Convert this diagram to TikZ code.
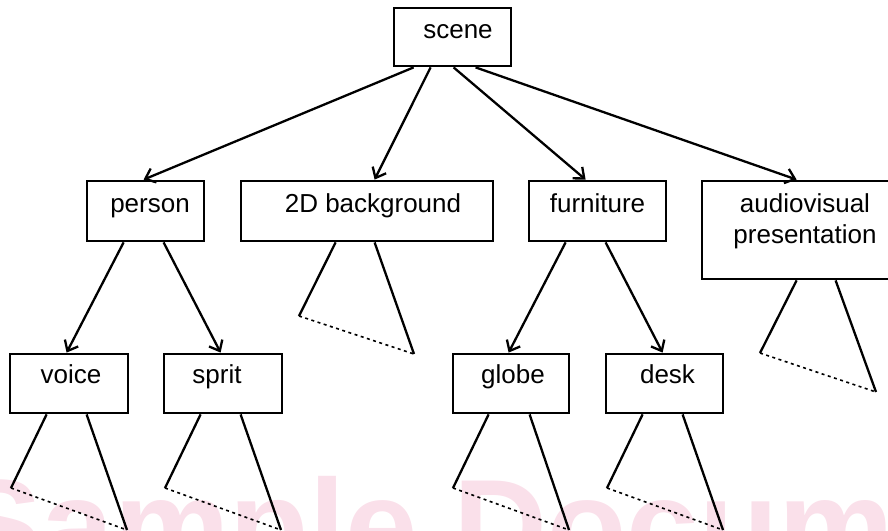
\documentclass[tikz,border=0pt]{standalone}
\usepackage{fontspec}
\setmainfont{Liberation Sans}
\usetikzlibrary{arrows.meta,calc}
\definecolor{wmpink}{RGB}{250,224,234}
\begin{document}
\begin{tikzpicture}[x=1pt,y=-1pt,
  box/.style={draw, line width=2.8pt, inner sep=0pt, minimum height=0pt, font=\fontsize{26}{31}\selectfont},
  topbox/.style={box, text height=31pt, text depth=29pt},
  lowbox/.style={box, text height=29pt, text depth=30pt},
  link/.style={line width=2.3pt, -{Straight Barb[length=9pt,width=15pt,line width=2.3pt]}},
  edge/.style={line width=2.3pt},
  cut/.style={line width=1.6pt, dash pattern=on 3pt off 3.5pt}]
\useasboundingbox (0,0) rectangle (888,530);
% watermark
\node[anchor=base west, text=wmpink, inner sep=0pt, font=\fontsize{130}{130}\bfseries\selectfont] (wm) at (-45,570) {Sample Document};
% boxes
\node[box, minimum width=117pt, text height=30pt, text depth=28pt] (scene) at (452.5,37) {\hspace*{11pt}scene};
\node[topbox, minimum width=117pt] (person) at (145.5,211) {\hspace*{9pt}person};
\node[topbox, minimum width=252pt] (bg) at (367,211) {\hspace*{12pt}2D background};
\node[topbox, minimum width=137pt] (furniture) at (597.5,211) {furniture};
\node[box, minimum width=206pt, text height=62pt, text depth=36pt] (audio) at (805,230)
  {\begin{tabular}[b]{@{}c@{}}audiovisual\\presentation\end{tabular}};
\node[lowbox, minimum width=118pt] (voice) at (69,383.5) {\hspace*{4pt}voice};
\node[lowbox, minimum width=118pt] (sprit) at (223,383.5) {sprit\hspace*{12pt}};
\node[lowbox, minimum width=116pt] (globe) at (511,383.5) {\hspace*{4pt}globe};
\node[lowbox, minimum width=117pt] (desk) at (664.5,383.5) {\hspace*{6pt}desk};
% arrows
\draw[link] ([xshift=21pt]scene.south west) -- ([xshift=58pt]person.north west);
\draw[link] ([xshift=38pt]scene.south west) -- ([xshift=135pt]bg.north west);
\draw[link] ([xshift=61pt]scene.south west) -- ([xshift=58pt]furniture.north west);
\draw[link] ([xshift=83pt]scene.south west) -- ([xshift=96pt]audio.north west);
\draw[link] ([xshift=38pt]person.south west) -- ([xshift=58pt]voice.north west);
\draw[link] ([xshift=78pt]person.south west) -- ([xshift=58pt]sprit.north west);
\draw[link] ([xshift=38pt]furniture.south west) -- ([xshift=57pt]globe.north west);
\draw[link] ([xshift=78pt]furniture.south west) -- ([xshift=58pt]desk.north west);
% subtree triangles
\coordinate (bgA) at (299,316); \coordinate (bgB) at (414,354);
\coordinate (auA) at (760,353); \coordinate (auB) at (876,392);
\coordinate (voA) at (11,488);  \coordinate (voB) at (127,530);
\coordinate (spA) at (165,488); \coordinate (spB) at (281,530);
\coordinate (glA) at (453,488); \coordinate (glB) at (569,530);
\coordinate (deA) at (607,488); \coordinate (deB) at (723,530);
\draw[edge] ([xshift=96pt]bg.south west) -- (bgA);
\draw[cut] (bgA) -- (bgB);
\draw[edge] ([xshift=135pt]bg.south west) -- (bgB);
\draw[edge] ([xshift=96pt]audio.south west) -- (auA);
\draw[cut] (auA) -- (auB);
\draw[edge] ([xshift=135pt]audio.south west) -- (auB);
\draw[edge] ([xshift=38pt]voice.south west) -- (voA);
\draw[cut] (voA) -- (voB);
\draw[edge] ([xshift=78pt]voice.south west) -- (voB);
\draw[edge] ([xshift=38pt]sprit.south west) -- (spA);
\draw[cut] (spA) -- (spB);
\draw[edge] ([xshift=78pt]sprit.south west) -- (spB);
\draw[edge] ([xshift=37pt]globe.south west) -- (glA);
\draw[cut] (glA) -- (glB);
\draw[edge] ([xshift=78pt]globe.south west) -- (glB);
\draw[edge] ([xshift=38pt]desk.south west) -- (deA);
\draw[cut] (deA) -- (deB);
\draw[edge] ([xshift=78pt]desk.south west) -- (deB);
\end{tikzpicture}
\end{document}
